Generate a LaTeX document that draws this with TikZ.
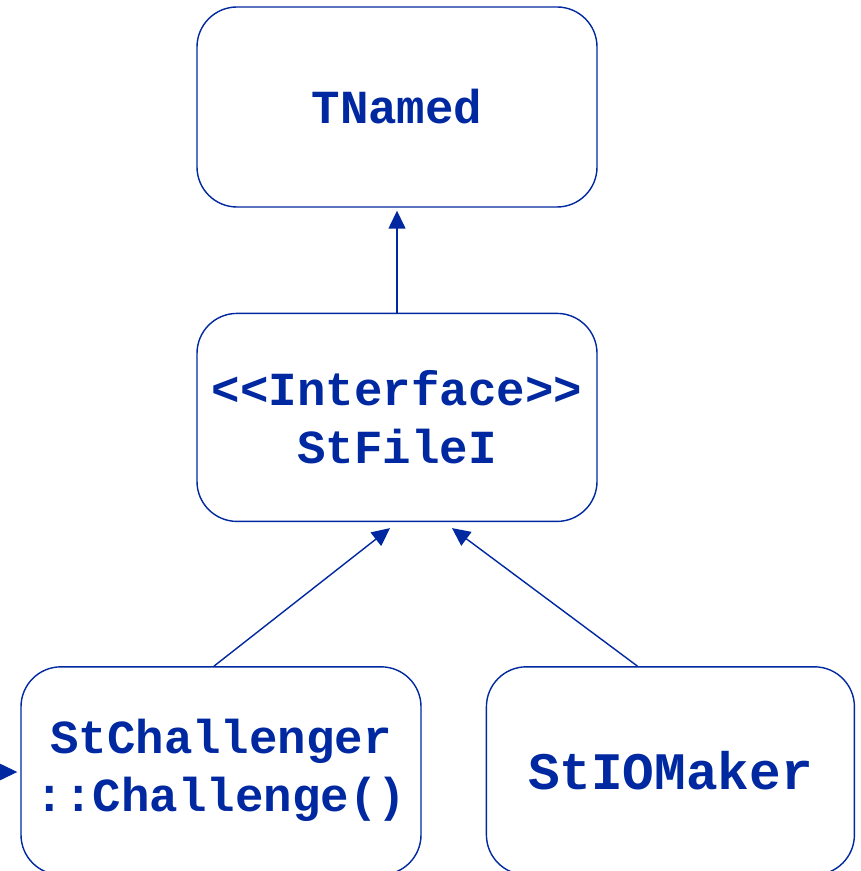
\documentclass[tikz,border=0pt]{standalone}
\usepackage{fontspec}
\setmonofont{Liberation Mono}
\usepackage{tikz}
\usetikzlibrary{arrows.meta}
\usetikzlibrary{calc,positioning}
\definecolor{umlblue}{RGB}{0,40,160}

\begin{document}
\begin{tikzpicture}[every node/.style={draw=umlblue, line width=0.8pt, rounded corners=0.8cm, inner sep=0pt, align=center, text=umlblue, font=\ttfamily\bfseries\fontsize{27}{33}\selectfont}]
        \useasboundingbox (0,0) rectangle (17.2,-17.42);
        \node (tnamed) [minimum width=8cm, minimum height=4cm] at (7.94,-2.14) {TNamed};
        \node (iface) [minimum width=8cm, minimum height=4.16cm, below=2.1cm of tnamed] {<<Interface>>\\StFileI};
        \node (chall) [minimum width=8cm, minimum height=4.16cm, below=2.88cm of iface, xshift=-3.52cm] {StChallenger\\::Challenge()};
        \node (iomaker) [minimum width=7.36cm, minimum height=4.16cm, right=1.28cm of chall, font=\ttfamily\bfseries\fontsize{30}{36}\selectfont] {StIOMaker};
        \coordinate (caller) at (-1,-15.44);

\draw [-{Triangle[length=0.36cm, width=0.34cm]}, umlblue, line width=0.8pt, shorten >=0.06cm] (iface) -- (tnamed);

\draw [-{Triangle[length=0.36cm, width=0.34cm]}, umlblue, line width=0.8pt] ([xshift=-0.14cm]chall.north) -- ([xshift=-0.14cm, yshift=-0.12cm]iface.south);

\draw [-{Triangle[length=0.36cm, width=0.34cm]}, umlblue, line width=0.8pt] ([xshift=-0.66cm]iomaker.north) -- ([xshift=1.1cm, yshift=-0.12cm]iface.south);

\draw [-{Triangle[length=0.36cm, width=0.34cm]}, umlblue, line width=0.8pt, shorten >=0.06cm] (caller) -- (caller -| chall.west);
    \end{tikzpicture}
\end{document}
